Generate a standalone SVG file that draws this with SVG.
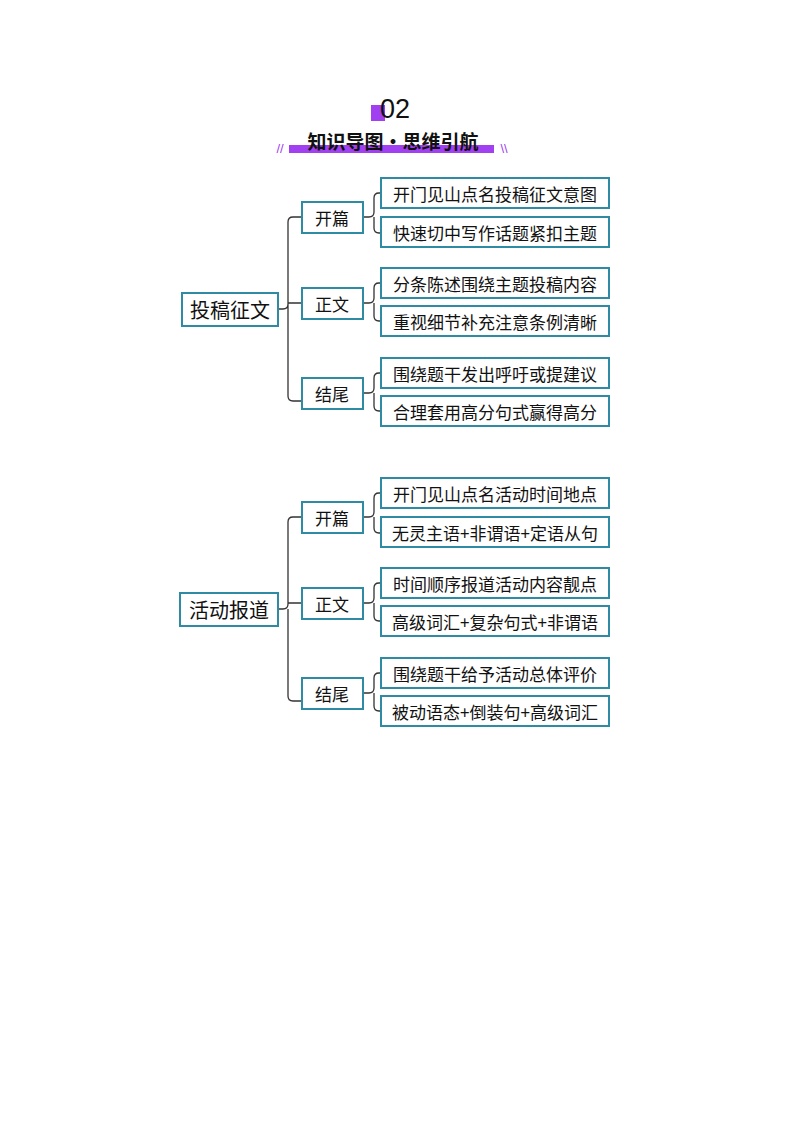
<svg xmlns="http://www.w3.org/2000/svg" width="794" height="1123" viewBox="0 0 794 1123">
<style>
.b{fill:#fff;stroke:#2f8aa3;stroke-width:2}
.t{font-family:"Noto Sans CJK SC",sans-serif;fill:#111;text-anchor:middle;dominant-baseline:central}
.l{font-size:17px}.m{font-size:17px}.r{font-size:20px}
.c{fill:none;stroke:#333;stroke-width:1.3}
</style>
<rect width="794" height="1123" fill="#fff"/>
<g id="title">
<rect x="371" y="105" width="14" height="16" fill="#a040f0"/>
<text x="395" y="109" class="t" style="font-size:27px;font-family:'Liberation Sans',sans-serif">02</text>
<rect x="289" y="145" width="205" height="8" fill="#a040f0"/>
<text x="393" y="140" class="t" style="font-size:19px;font-weight:bold">知识导图·思维引航</text>
<text x="280" y="148" class="t" style="font-size:13px;fill:#a040f0;font-family:'Liberation Sans',sans-serif">//</text>
<text x="504" y="148" class="t" style="font-size:13px;fill:#a040f0;font-family:'Liberation Sans',sans-serif">\\</text>
</g>
<g id="connectors">
<path class="c" d="M278 309 H283 Q288 309 288 304 V222 Q288 217 293 217 H302 M288 304 V314 Q288 319 288 314 M288 309 V396 Q288 401 293 401 H302 M288 303 H302"/>
<path class="c" d="M363 217 H369 Q374 217 374 212 V198 Q374 193 379 193 H381 M374 217 V228 Q374 233 379 233 H381"/>
<path class="c" d="M363 303 H369 Q374 303 374 298 V288 Q374 283 379 283 H381 M374 303 V316 Q374 321 379 321 H381"/>
<path class="c" d="M363 393 H369 Q374 393 374 388 V378 Q374 373 379 373 H381 M374 393 V406 Q374 411 379 411 H381"/>
<path class="c" d="M278 609 H283 Q288 609 288 604 V522 Q288 517 293 517 H302 M288 609 V696 Q288 701 293 701 H302 M288 603 H302"/>
<path class="c" d="M363 517 H369 Q374 517 374 512 V498 Q374 493 379 493 H381 M374 517 V528 Q374 533 379 533 H381"/>
<path class="c" d="M363 603 H369 Q374 603 374 598 V588 Q374 583 379 583 H381 M374 603 V616 Q374 621 379 621 H381"/>
<path class="c" d="M363 693 H369 Q374 693 374 688 V678 Q374 673 379 673 H381 M374 693 V706 Q374 711 379 711 H381"/>
</g>
<g id="n1"><rect class="b" x="182" y="293" width="96" height="33"/><text class="t r" x="230" y="309">投稿征文</text></g>
<g id="n2"><rect class="b" x="302" y="202" width="61" height="31"/><text class="t m" x="332" y="217">开篇</text></g>
<g id="n3"><rect class="b" x="302" y="288" width="61" height="31"/><text class="t m" x="332" y="303">正文</text></g>
<g id="n4"><rect class="b" x="302" y="378" width="61" height="31"/><text class="t m" x="332" y="393">结尾</text></g>
<g id="n5"><rect class="b" x="381" y="178" width="228" height="30"/><text class="t l" x="495" y="193">开门见山点名投稿征文意图</text></g>
<g id="n6"><rect class="b" x="381" y="217" width="228" height="30"/><text class="t l" x="495" y="232">快速切中写作话题紧扣主题</text></g>
<g id="n7"><rect class="b" x="381" y="268" width="228" height="30"/><text class="t l" x="495" y="283">分条陈述围绕主题投稿内容</text></g>
<g id="n8"><rect class="b" x="381" y="306" width="228" height="30"/><text class="t l" x="495" y="321">重视细节补充注意条例清晰</text></g>
<g id="n9"><rect class="b" x="381" y="358" width="228" height="30"/><text class="t l" x="495" y="373">围绕题干发出呼吁或提建议</text></g>
<g id="n10"><rect class="b" x="381" y="396" width="228" height="30"/><text class="t l" x="495" y="411">合理套用高分句式赢得高分</text></g>
<g id="m1"><rect class="b" x="180" y="593" width="98" height="33"/><text class="t r" x="229" y="609">活动报道</text></g>
<g id="m2"><rect class="b" x="302" y="502" width="61" height="31"/><text class="t m" x="332" y="517">开篇</text></g>
<g id="m3"><rect class="b" x="302" y="588" width="61" height="31"/><text class="t m" x="332" y="603">正文</text></g>
<g id="m4"><rect class="b" x="302" y="678" width="61" height="31"/><text class="t m" x="332" y="693">结尾</text></g>
<g id="m5"><rect class="b" x="381" y="478" width="228" height="30"/><text class="t l" x="495" y="493">开门见山点名活动时间地点</text></g>
<g id="m6"><rect class="b" x="381" y="517" width="228" height="30"/><text class="t l" x="495" y="532">无灵主语+非谓语+定语从句</text></g>
<g id="m7"><rect class="b" x="381" y="568" width="228" height="30"/><text class="t l" x="495" y="583">时间顺序报道活动内容靓点</text></g>
<g id="m8"><rect class="b" x="381" y="606" width="228" height="30"/><text class="t l" x="495" y="621">高级词汇+复杂句式+非谓语</text></g>
<g id="m9"><rect class="b" x="381" y="658" width="228" height="30"/><text class="t l" x="495" y="673">围绕题干给予活动总体评价</text></g>
<g id="m10"><rect class="b" x="381" y="696" width="228" height="30"/><text class="t l" x="495" y="711">被动语态+倒装句+高级词汇</text></g>
</svg>
